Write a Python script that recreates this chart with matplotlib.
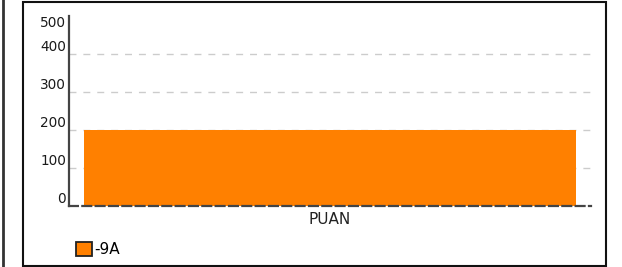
import matplotlib
matplotlib.use("Agg")
import matplotlib.pyplot as plt
import matplotlib.transforms as mtransforms
from matplotlib.patches import Rectangle
from matplotlib.lines import Line2D

# datos
categorias = ["PUAN"]
series = ["-9A"]
valores = [200]
ticks_y = [0, 100, 200, 300, 400, 500]
color_barra = "#ff8000"

W, H = 622, 267
fig = plt.figure(figsize=(W / 100, H / 100), dpi=100)

# lineas de marco
fig.add_artist(Line2D([2.5 / W, 2.5 / W], [0, 1], color="#333333", lw=2))
fig.add_artist(Rectangle((23 / W, 1.5 / H), (606 - 23) / W, (265 - 1.5) / H,
                         fill=False, edgecolor="#111111", lw=1.5))

ax = fig.add_axes([69 / W, 1 - 206 / H, 522 / W, 190 / H])
ax.bar([0], valores, width=0.9425, color=color_barra, zorder=2, label=series[0])
ax.set_xlim(-0.5, 0.5)
ax.set_ylim(0, 500)

ax.set_yticks(ticks_y)
ax.set_yticklabels([str(t) for t in ticks_y], fontsize=9.8, color="#1a1a1a")
ax.tick_params(axis="y", length=0, pad=2)
for lbl in ax.get_yticklabels():
    lbl.set_verticalalignment("bottom")
# la etiqueta 500 aparece mas abajo
ultima = ax.get_yticklabels()[-1]
ultima.set_transform(ultima.get_transform() +
                     mtransforms.ScaledTranslation(0, -0.14, fig.dpi_scale_trans))

ax.set_xticks([])
ax.set_xlabel(categorias[0], fontsize=11, color="#222222", labelpad=4)

ax.grid(axis="y", color="#cccccc", linestyle=(0, (5, 5)), lw=1, zorder=0)
ax.get_ygridlines()[-1].set_visible(False)
for s in ["top", "right"]:
    ax.spines[s].set_visible(False)
ax.spines["left"].set_color("#444444")
ax.spines["left"].set_linewidth(1.6)
ax.spines["bottom"].set_color("#444444")
ax.spines["bottom"].set_linewidth(1.6)
ax.spines["bottom"].set_linestyle((0, (4, 2)))

leg = fig.legend(loc="lower left", bbox_to_anchor=(70 / W, 4 / H), frameon=False,
                 fontsize=11, handlelength=1.05, handleheight=1.05, handletextpad=0.15,
                 borderaxespad=0)
for p in leg.get_patches():
    p.set_edgecolor("#222222")
    p.set_linewidth(1.3)

fig.savefig("out.png", dpi=100)
